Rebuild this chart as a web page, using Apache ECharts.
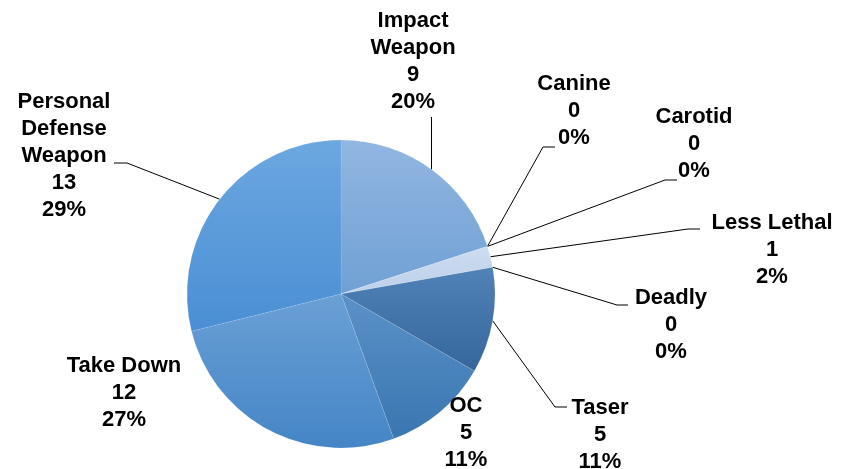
<!DOCTYPE html>
<html>
<head>
<meta charset="utf-8">
<script src="https://cdn.jsdelivr.net/npm/echarts@6/dist/echarts.min.js"></script>
<style>html,body{margin:0;padding:0;background:#fff;}#c{width:842px;height:469px;}</style>
</head>
<body>
<div id="c"></div>
<script>
// Data (clockwise from 12 o'clock)
const categories = ['Impact\nWeapon', 'Canine', 'Carotid', 'Less Lethal', 'Deadly', 'Taser', 'OC', 'Take Down', 'Personal\nDefense\nWeapon'];
const values = [9, 0, 0, 1, 0, 5, 5, 12, 13];

// Styles
const colorsTop = ['#92b6e2', '#8fb4e0', '#8fb4e0', '#cddcf0', '#4f80b3', '#5082b8', '#5b91c8', '#6aa0d5', '#6ca7e0'];
const colorsBottom = ['#70a0d4', '#6e9bd0', '#6e9bd0', '#bcd0ea', '#3a6a9c', '#35679c', '#3a76b1', '#4585c6', '#4a8fd4'];
const labelPos = [[413, 61], [574, 111], [694, 144], [772, 250], [671, 325], [600, 435], [466, 433], [124, 393], [64, 156]];
const lineBends = [null, [[543, 147], [555, 147]], [[665, 180], [677, 180]], [[688, 229], [700, 229]], [[617, 305], [628, 305]], [[555, 407], [567, 407]], null, null, [[127, 163], [114, 163]]];
const showLine = [true, true, true, true, true, true, false, false, true];

const chart = echarts.init(document.getElementById('c'), null, {renderer: 'canvas'});
const data = categories.map((name, i) => ({
  name: name,
  value: values[i],
  itemStyle: {
    color: new echarts.graphic.LinearGradient(0, 0, 0, 1, [
      {offset: 0, color: colorsTop[i]},
      {offset: 1, color: colorsBottom[i]}
    ])
  },
  labelLine: {show: showLine[i]}
}));

chart.setOption({
  backgroundColor: '#ffffff',
  animation: false,
  series: [{
    type: 'pie',
    center: [341, 294],
    radius: 154,
    startAngle: 90,
    clockwise: true,
    percentPrecision: 0,
    avoidLabelOverlap: false,
    data: data,
    itemStyle: {borderColor: 'rgba(255,255,255,0.2)', borderWidth: 0.5},
    label: {
      show: true,
      position: 'outside',
      formatter: '{b}\n{c}\n{d}%',
      fontFamily: 'Liberation Sans, Arial, sans-serif',
      fontWeight: 'bold',
      fontSize: 22,
      lineHeight: 27,
      color: '#000',
      align: 'center'
    },
    labelLine: {
      show: true,
      length: 10,
      length2: 10,
      lineStyle: {color: '#000', width: 1}
    },
    labelLayout: function (params) {
      const i = params.dataIndex;
      const p = labelPos[i];
      const out = {x: p[0], y: p[1], align: 'center', verticalAlign: 'middle'};
      const start = params.labelLinePoints ? params.labelLinePoints[0] : null;
      if (start && showLine[i]) {
        if (lineBends[i]) {
          out.labelLinePoints = [start, lineBends[i][0], lineBends[i][1]];
        } else {
          out.labelLinePoints = [start, [start[0], 117], [start[0], 117]];
        }
      }
      return out;
    }
  }]
});
</script>
</body>
</html>
